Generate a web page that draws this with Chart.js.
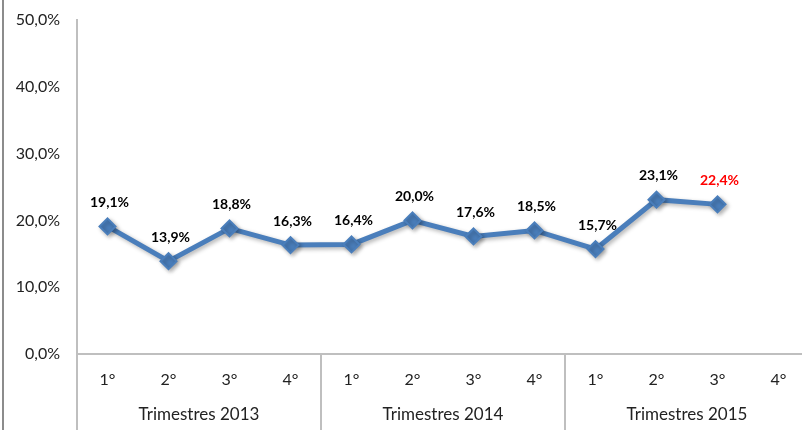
<!DOCTYPE html>
<html>
<head>
<meta charset="utf-8">
<script src="https://cdn.jsdelivr.net/npm/chart.js@4/dist/chart.umd.min.js"></script>
<style>
  html, body { margin: 0; padding: 0; background: #fff; overflow: hidden; width: 802px; height: 430px; }
  #edge { position: absolute; left: 2px; top: 0; width: 2px; height: 430px; background: #8c8c8c; }
  #trimchart { position: absolute; left: 0; top: 0; }
</style>
</head>
<body>
<canvas id="trimchart" width="809" height="430"></canvas>
<div id="edge"></div>
<script>
var quarters = ['1°', '2°', '3°', '4°', '1°', '2°', '3°', '4°', '1°', '2°', '3°', '4°'];
var years = ['Trimestres 2013', 'Trimestres 2014', 'Trimestres 2015'];
var rates = [19.1, 13.9, 18.8, 16.3, 16.4, 20.0, 17.6, 18.5, 15.7, 23.1, 22.4, null];
var yTicks = [0, 10, 20, 30, 40, 50];

var lineBlue = '#4A7EBB';
var axisGray = '#BFBFBF';

function pct(v) {
    return v.toFixed(1).replace('.', ',') + '%';
}

function noPad(scale) {
    scale.paddingLeft = 0;
    scale.paddingRight = 0;
    scale.paddingTop = 0;
    scale.paddingBottom = 0;
}

// bold value labels above the points, the last one in red
var valueLabels = {
    id: 'valueLabels',
    afterDatasetsDraw: function(chart) {
        var ctx = chart.ctx;
        var meta = chart.getDatasetMeta(0);
        var last = -1;
        rates.forEach(function(v, i) { if (v !== null) last = i; });
        ctx.save();
        ctx.font = 'bold 14px Lato';
        ctx.textAlign = 'center';
        ctx.textBaseline = 'middle';
        meta.data.forEach(function(pt, i) {
            if (rates[i] === null) return;
            ctx.fillStyle = i === last ? '#FF0000' : '#000000';
            ctx.fillText(pct(rates[i]), pt.x + 2, pt.y - 24);
        });
        ctx.restore();
    }
};

// soft shadow under the line, like the office chart
var lineShadow = {
    id: 'lineShadow',
    beforeDatasetDraw: function(chart) {
        var ctx = chart.ctx;
        ctx.save();
        ctx.shadowColor = 'rgba(0,0,0,0.3)';
        ctx.shadowBlur = 4;
        ctx.shadowOffsetX = 2;
        ctx.shadowOffsetY = 2;
    },
    afterDatasetDraw: function(chart) {
        chart.ctx.restore();
    }
};

// group separators and the y axis running down through the label rows
var groupLines = {
    id: 'groupLines',
    afterDraw: function(chart) {
        var ctx = chart.ctx;
        var x = chart.scales.x;
        var bottom = chart.height;
        ctx.save();
        ctx.strokeStyle = axisGray;
        ctx.lineWidth = 2;
        ctx.beginPath();
        ctx.moveTo(chart.chartArea.left, chart.chartArea.bottom);
        ctx.lineTo(chart.chartArea.left, bottom);
        for (var i = 4; i <= quarters.length; i += 4) {
            var px;
            if (i < quarters.length) {
                px = Math.round((x.getPixelForValue(i - 1) + x.getPixelForValue(i)) / 2);
            } else {
                px = x.right;
            }
            ctx.moveTo(px, x.top);
            ctx.lineTo(px, bottom);
        }
        ctx.stroke();
        ctx.restore();
    }
};

var trimctx = document.getElementById('trimchart').getContext('2d');
var trimchart = new Chart(trimctx, {
    type: 'line',
    data: {
        labels: quarters,
        datasets: [{
            label: 'Taxa',
            data: rates,
            borderColor: lineBlue,
            backgroundColor: lineBlue,
            borderWidth: 5,
            pointStyle: 'rectRot',
            pointRadius: 8,
            pointBorderWidth: 2,
            pointBorderColor: lineBlue,
            pointBackgroundColor: lineBlue,
            tension: 0,
            spanGaps: false
        }]
    },
    options: {
        responsive: false,
        animation: false,
        layout: { autoPadding: false, padding: { top: 20, right: 0, bottom: 0, left: 0 } },
        plugins: {
            legend: { display: false },
            tooltip: { enabled: false }
        },
        scales: {
            y: {
                min: 0,
                max: 50,
                afterBuildTicks: function(scale) {
                    scale.ticks = yTicks.map(function(v) { return { value: v }; });
                },
                afterFit: function(scale) { scale.width = 77; noPad(scale); },
                grid: { display: false, drawTicks: false },
                border: { display: true, color: axisGray, width: 2 },
                ticks: {
                    padding: 17,
                    color: '#222',
                    font: { family: 'Lato', size: 16 },
                    callback: function(v) { return pct(v); }
                }
            },
            x: {
                type: 'category',
                offset: true,
                afterFit: function(scale) { scale.height = 35; noPad(scale); },
                grid: { display: false, drawTicks: false },
                border: { display: true, color: axisGray, width: 2 },
                ticks: {
                    padding: 16,
                    color: '#222',
                    maxRotation: 0,
                    autoSkip: false,
                    font: { family: 'Lato', size: 16 }
                }
            },
            x2: {
                type: 'category',
                position: 'bottom',
                labels: years,
                offset: true,
                afterFit: function(scale) { scale.height = 41; noPad(scale); },
                grid: { display: false, drawTicks: false },
                border: { display: false },
                ticks: {
                    padding: 15,
                    color: '#222',
                    maxRotation: 0,
                    autoSkip: false,
                    font: { family: 'Lato', size: 17 }
                }
            }
        }
    },
    plugins: [lineShadow, valueLabels, groupLines]
});
</script>
</body>
</html>
